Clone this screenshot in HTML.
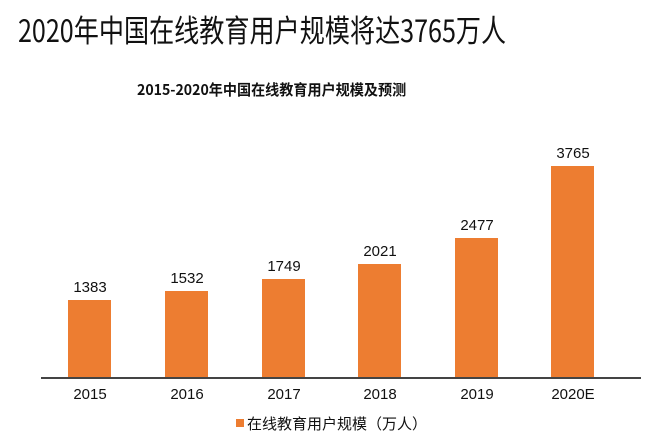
<!DOCTYPE html>
<html><head><meta charset="utf-8"><style>
body{margin:0;width:660px;height:438px;background:#fff;position:relative;overflow:hidden;font-family:"Liberation Sans","Noto Sans CJK SC",sans-serif;color:#111}
.t{position:absolute;left:18px;top:6px;font-size:31px;white-space:nowrap;transform:scaleX(0.81);transform-origin:left top;font-family:"Noto Sans CJK SC",sans-serif;}
.s{position:absolute;left:137px;top:79px;font-size:15px;font-weight:bold;white-space:nowrap;transform:scaleX(0.94);transform-origin:left top;font-family:"Noto Sans CJK SC",sans-serif;}
.b{position:absolute;width:43px;background:#ed7d31;}
.v{position:absolute;width:80px;text-align:center;font-size:15px;}
.y{position:absolute;width:80px;text-align:center;font-size:15px;top:386px}
</style></head><body>
<div class="t">2020年中国在线教育用户规模将达3765万人</div>
<div class="s">2015-2020年中国在线教育用户规模及预测</div>
<div style="position:absolute;left:41px;top:377px;width:600px;height:2px;background:#444"></div>

<div class="b" style="left:68px;top:300px;height:77px"></div>
<div class="v" style="left:50px;top:279px">1383</div>
<div class="y" style="left:50px">2015</div>

<div class="b" style="left:165px;top:291px;height:86px"></div>
<div class="v" style="left:147px;top:270px">1532</div>
<div class="y" style="left:147px">2016</div>

<div class="b" style="left:262px;top:279px;height:98px"></div>
<div class="v" style="left:244px;top:258px">1749</div>
<div class="y" style="left:244px">2017</div>

<div class="b" style="left:358px;top:264px;height:113px"></div>
<div class="v" style="left:340px;top:243px">2021</div>
<div class="y" style="left:340px">2018</div>

<div class="b" style="left:455px;top:238px;height:139px"></div>
<div class="v" style="left:437px;top:217px">2477</div>
<div class="y" style="left:437px">2019</div>

<div class="b" style="left:551px;top:166px;height:211px"></div>
<div class="v" style="left:533px;top:145px">3765</div>
<div class="y" style="left:533px">2020E</div>

<div style="position:absolute;left:236px;top:419px;width:8px;height:8px;background:#ed7d31"></div>
<div style="position:absolute;left:247px;top:413px;font-size:15px;white-space:nowrap">在线教育用户规模（万人）</div>
</body></html>
